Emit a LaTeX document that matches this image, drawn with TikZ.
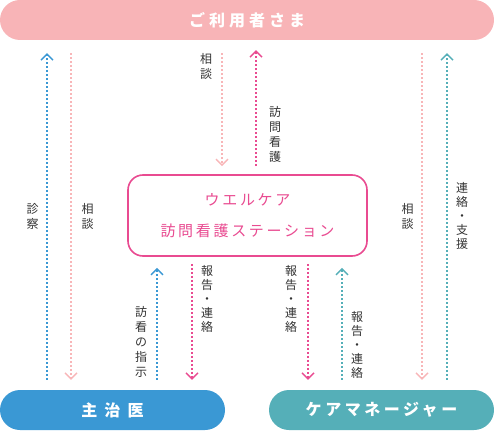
\documentclass[tikz,border=0pt]{standalone}
\usepackage{fontspec}
\setmainfont{Noto Sans CJK JP}
\newfontfamily\jpA[LetterSpace=25]{Noto Sans CJK JP}
\newfontfamily\jpB[LetterSpace=44]{Noto Sans CJK JP}
\newfontfamily\jpC[LetterSpace=22]{Noto Sans CJK JP}
\newfontfamily\jpD[LetterSpace=18]{Noto Sans CJK JP}
\usetikzlibrary{arrows.meta}
\definecolor{toppink}{HTML}{F8B4B7}
\definecolor{docblue}{HTML}{3A98D4}
\definecolor{cmteal}{HTML}{55AFB8}
\definecolor{stmag}{HTML}{E94B91}
\definecolor{lpink}{HTML}{F8B6B8}
\definecolor{labgray}{HTML}{333333}
\tikzset{
  pill/.style={rectangle, rounded corners=20pt, minimum height=40pt, inner sep=0pt, text=white},
  stbox/.style={rectangle, rounded corners=15pt, draw=stmag, line width=1.6pt, fill=white,
    minimum width=239pt, minimum height=81pt, align=center, text=stmag, inner sep=0pt,
    font=\jpD\fontsize{15}{31}\selectfont},
  vlab/.style={align=center, inner sep=0pt, text=labgray, font=\fontsize{12}{15}\selectfont},
  vlabs/.style={vlab, font=\fontsize{12}{14}\selectfont},
  dotarr/.style={line width=1.7pt, dash pattern=on 1.7pt off 2.3pt,
    -{Straight Barb[length=6pt,width=12pt,line width=1.4pt]}},
}
\begin{document}
\begin{tikzpicture}[x=1pt,y=-1pt]
\useasboundingbox (0,0) rectangle (494,430);
\node[pill, fill=toppink, minimum width=494pt, font=\jpA\fontsize{16}{16}\selectfont\bfseries] (user) at (247,20) {ご利用者さま};
\node[pill, fill=docblue, minimum width=225pt, font=\jpB\fontsize{16}{16}\selectfont\bfseries] (doc) at (112.5,410) {主治医};
\node[pill, fill=cmteal, minimum width=225pt, font=\jpC\fontsize{16}{16}\selectfont\bfseries] (cm) at (381.5,410) {ケアマネージャー};
\node[stbox] (st) at (247.5,215.5) {ウエルケア\\訪問看護ステーション};

% arrows
\draw[dotarr, docblue, shorten <=10pt, shorten >=13pt] (doc.north -| 47,0) -- (user.south -| 47,0);
\draw[dotarr, lpink, shorten <=13pt, shorten >=10pt] (user.south -| 71,0) -- (doc.north -| 71,0);
\draw[dotarr, lpink, shorten <=13pt, shorten >=8pt] (user.south -| 222,0) -- (st.north -| 222,0);
\draw[dotarr, stmag, shorten <=8pt, shorten >=10pt] (st.north -| 256,0) -- (user.south -| 256,0);
\draw[dotarr, lpink, shorten <=13pt, shorten >=10pt] (user.south -| 422,0) -- (cm.north -| 422,0);
\draw[dotarr, cmteal, shorten <=10pt, shorten >=13pt] (cm.north -| 447,0) -- (user.south -| 447,0);
\draw[dotarr, docblue, shorten <=10pt, shorten >=11pt] (doc.north -| 157,0) -- (st.south -| 157,0);
\draw[dotarr, stmag, shorten <=7pt, shorten >=10pt] (st.south -| 192,0) -- (doc.north -| 192,0);
\draw[dotarr, stmag, shorten <=7pt, shorten >=10pt] (st.south -| 308,0) -- (cm.north -| 308,0);
\draw[dotarr, cmteal, shorten <=10pt, shorten >=11pt] (cm.north -| 342,0) -- (st.south -| 342,0);

% labels
\node[vlab] (l1) at (32.5,216) {診\\察};
\node[vlab] (l2) at (87.5,216) {相\\談};
\node[vlab] (l3) at (206,66) {相\\談};
\node[vlab] (l4) at (275,134) {訪\\問\\看\\護};
\node[vlab] (l5) at (407.5,216) {相\\談};
\node[vlabs] (l6) at (462,216) {連\\絡\\・\\支\\援};
\node[vlab] (l7) at (141,342) {訪\\看\\の\\指\\示};
\node[vlabs] (l8) at (207,299) {報\\告\\・\\連\\絡};
\node[vlabs] (l9) at (291,299) {報\\告\\・\\連\\絡};
\node[vlabs] (l10) at (357,345) {報\\告\\・\\連\\絡};
\end{tikzpicture}
\end{document}
